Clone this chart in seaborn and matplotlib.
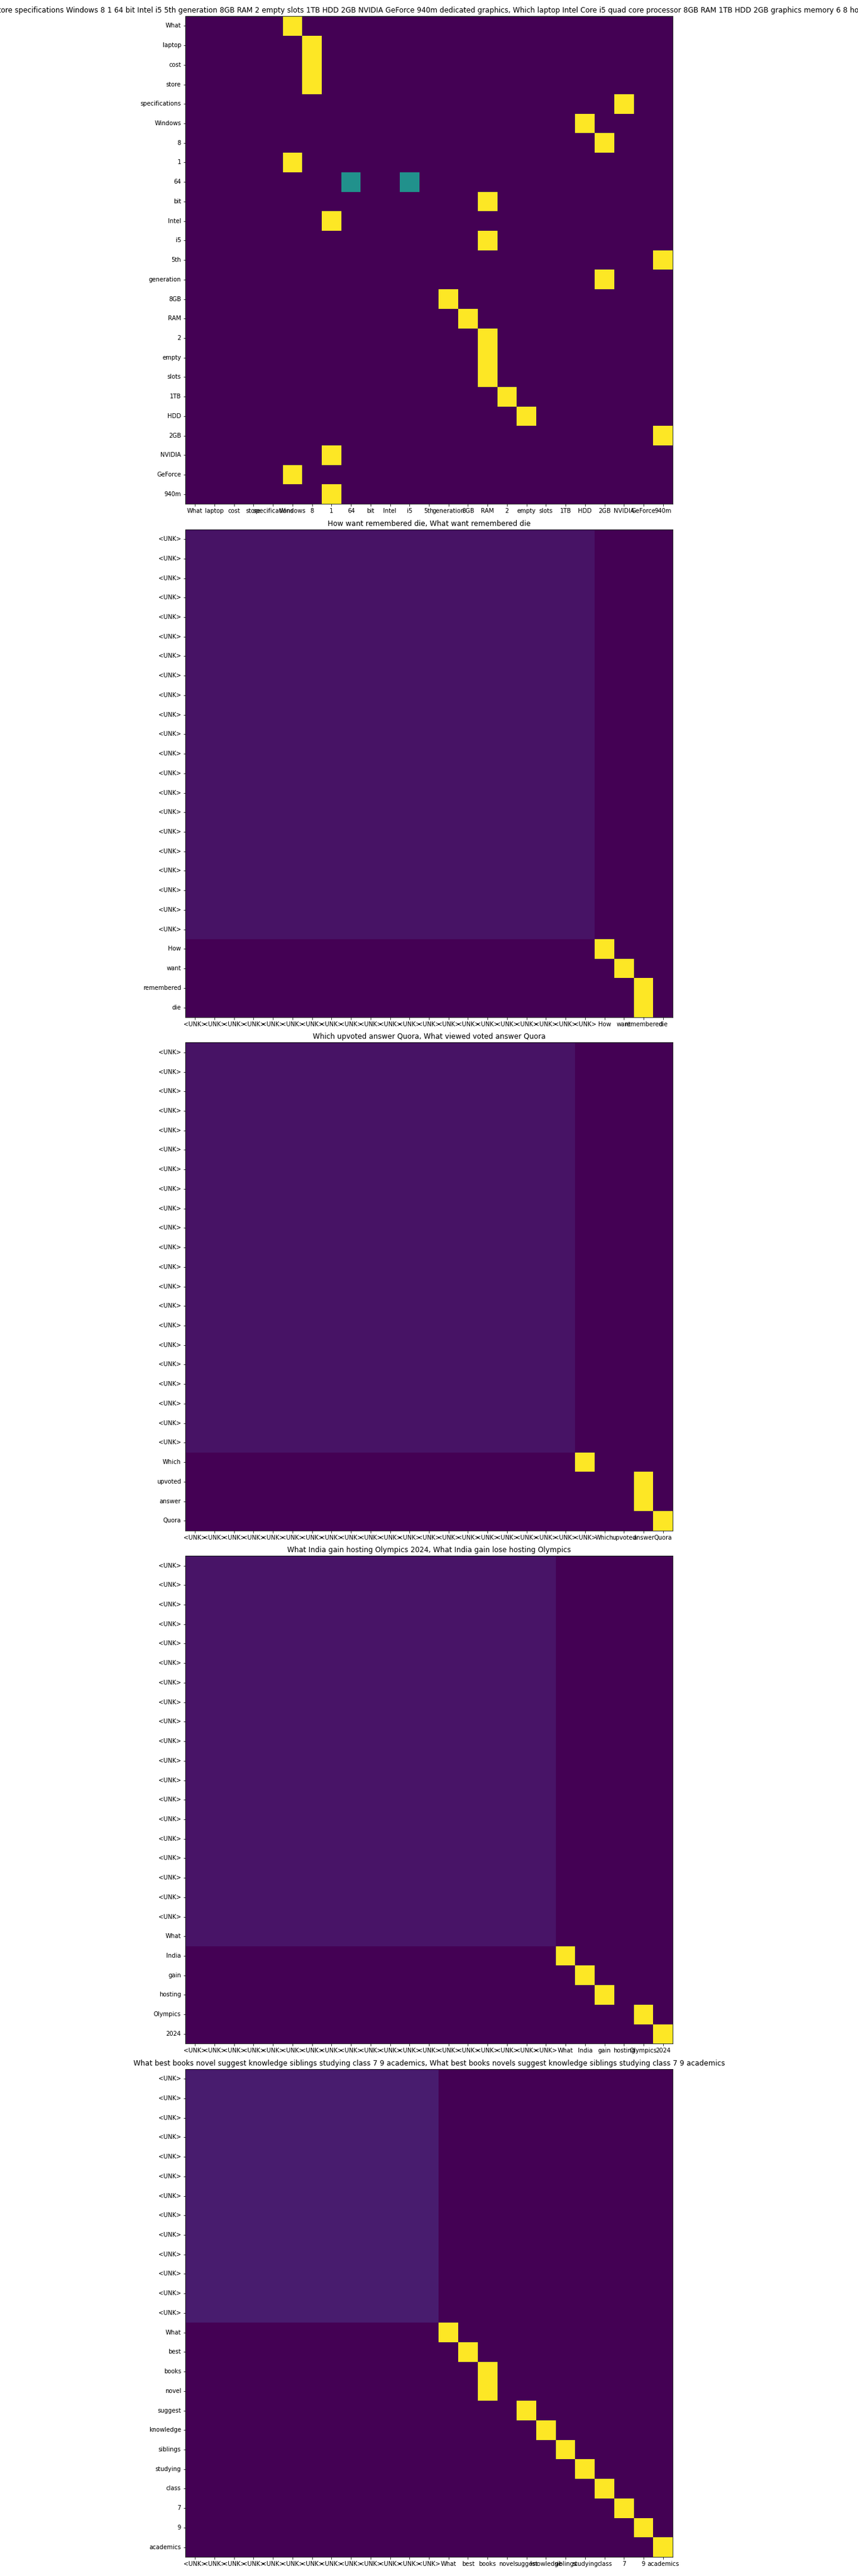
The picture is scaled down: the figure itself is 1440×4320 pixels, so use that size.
import numpy as np
import matplotlib
matplotlib.use("Agg")
import matplotlib.pyplot as plt
import seaborn as sns

UNK = "<UNK>"
SEQ_LEN = 25

# pair 1
title_1 = ("What laptop cost store specifications Windows 8 1 64 bit Intel i5 5th generation "
           "8GB RAM 2 empty slots 1TB HDD 2GB NVIDIA GeForce 940m dedicated graphics, "
           "Which laptop Intel Core i5 quad core processor 8GB RAM 1TB HDD 2GB graphics memory "
           "6 8 hours battery backup")
words_1 = ["What", "laptop", "cost", "store", "specifications", "Windows", "8", "1", "64",
           "bit", "Intel", "i5", "5th", "generation", "8GB", "RAM", "2", "empty", "slots",
           "1TB", "HDD", "2GB", "NVIDIA", "GeForce", "940m"]
unk_rows_1 = 0      # padding labels
flat_rows_1 = 0     # rows spread evenly over the padding columns
flat_cols_1 = 0
focus_1 = [[5], [6], [6], [6], [22], [20], [21], [5], [8, 11], [15], [7], [15], [24],
           [21], [13], [14], [15], [15], [15], [16], [17], [24], [7], [5], [7]]

# pair 2
title_2 = "How want remembered die, What want remembered die"
words_2 = ["How", "want", "remembered", "die"]
unk_rows_2 = 21
flat_rows_2 = 21
flat_cols_2 = 21
focus_2 = [[21], [22], [23], [23]]

# pair 3
title_3 = "Which upvoted answer Quora, What viewed voted answer Quora"
words_3 = ["Which", "upvoted", "answer", "Quora"]
unk_rows_3 = 21
flat_rows_3 = 21
flat_cols_3 = 20
focus_3 = [[20], [23], [23], [24]]

# pair 4
title_4 = "What India gain hosting Olympics 2024, What India gain lose hosting Olympics"
words_4 = ["What", "India", "gain", "hosting", "Olympics", "2024"]
unk_rows_4 = 19
flat_rows_4 = 20
flat_cols_4 = 19
focus_4 = [[19], [20], [21], [23], [24]]

# pair 5
title_5 = ("What best books novel suggest knowledge siblings studying class 7 9 academics, "
           "What best books novels suggest knowledge siblings studying class 7 9 academics")
words_5 = ["What", "best", "books", "novel", "suggest", "knowledge", "siblings",
           "studying", "class", "7", "9", "academics"]
unk_rows_5 = 13
flat_rows_5 = 13
flat_cols_5 = 13
focus_5 = [[13], [14], [15], [15], [17], [18], [19], [20], [21], [22], [23], [24]]


def build_matrix(flat_rows, flat_cols, focus):
    m = np.zeros((SEQ_LEN, SEQ_LEN))
    if flat_cols:
        m[:flat_rows, :flat_cols] = 1.0 / flat_cols
    for i, cols in enumerate(focus):
        for c in cols:
            m[flat_rows + i, c] = 1.0 / len(cols)
    return m


panels = [
    (title_1, [UNK] * unk_rows_1 + words_1, build_matrix(flat_rows_1, flat_cols_1, focus_1)),
    (title_2, [UNK] * unk_rows_2 + words_2, build_matrix(flat_rows_2, flat_cols_2, focus_2)),
    (title_3, [UNK] * unk_rows_3 + words_3, build_matrix(flat_rows_3, flat_cols_3, focus_3)),
    (title_4, [UNK] * unk_rows_4 + words_4, build_matrix(flat_rows_4, flat_cols_4, focus_4)),
    (title_5, [UNK] * unk_rows_5 + words_5, build_matrix(flat_rows_5, flat_cols_5, focus_5)),
]

fig, axes = plt.subplots(5, 1, figsize=(20, 60), dpi=72)
for ax, (title, labels, mat) in zip(axes, panels):
    sns.heatmap(mat, ax=ax, cmap="viridis", vmin=0, vmax=1, cbar=False, square=True,
                xticklabels=labels, yticklabels=labels)
    ax.set_title(title)
    ax.tick_params(axis="x", labelrotation=0)
    ax.tick_params(axis="y", labelrotation=0)
    for spine in ax.spines.values():
        spine.set_visible(True)
        spine.set_linewidth(0.8)

fig.subplots_adjust(left=0.1, right=0.9, top=0.99375, bottom=0.0074, hspace=0.052)
fig.savefig("out.png", dpi=72)
